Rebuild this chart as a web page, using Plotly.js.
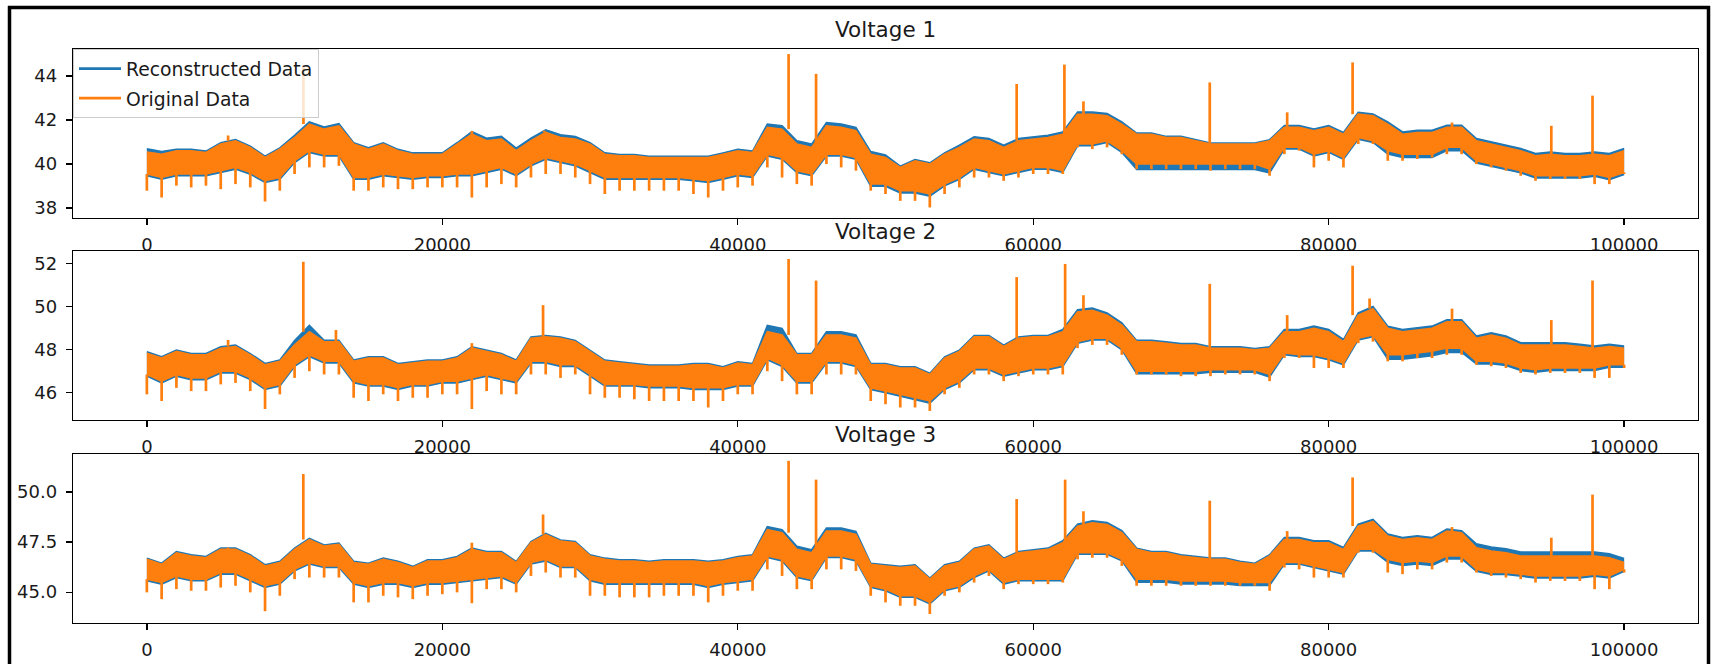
<!DOCTYPE html>
<html><head><meta charset="utf-8">
<script src="https://cdn.plot.ly/plotly-3.0.1.min.js"></script>
<style>html,body{margin:0;padding:0;background:#fff;}#chart{width:1714px;height:664px;}</style>
</head><body><div id="chart"></div>
<script>
// ---------- text / ticks ----------
const panelTitles = ["Voltage 1", "Voltage 2", "Voltage 3"];
const seriesNames = ["Reconstructed Data", "Original Data"];
const xTickVals = [0, 20000, 40000, 60000, 80000, 100000];
const xTickText = ["0", "20000", "40000", "60000", "80000", "100000"];
const yTickVals1 = [38, 40, 42, 44];     const yTickText1 = ["38", "40", "42", "44"];
const yTickVals2 = [46, 48, 50, 52];     const yTickText2 = ["46", "48", "50", "52"];
const yTickVals3 = [45, 47.5, 50];       const yTickText3 = ["45.0", "47.5", "50.0"];
const xRange = [-5000, 105000];
const yRange1 = [37.55, 45.23];
const yRange2 = [44.74, 52.57];
const yRange3 = [43.46, 51.9];
const binStep = 1000;   // envelope arrays: one value per 1000 samples (x = index*1000)

// ---------- Voltage 1 : Original Data (orange) ----------
const v1Hi = [40.55,40.45,40.61,40.61,40.53,40.91,41.06,40.76,40.30,40.68,
 41.21,41.82,41.59,41.74,40.91,40.68,40.91,40.61,40.45,40.45,
 40.45,40.91,41.36,41.06,41.14,40.61,41.06,41.44,41.21,41.14,
 40.91,40.45,40.38,40.38,40.30,40.30,40.30,40.30,40.30,40.45,
 40.61,40.53,41.67,41.59,40.91,40.76,41.74,41.67,41.52,40.45,
 40.30,39.85,40.15,40.00,40.45,40.76,41.14,41.06,40.76,41.06,
 41.14,41.21,41.36,42.27,42.27,42.20,41.82,41.36,41.36,41.21,
 41.21,41.06,40.91,40.91,40.91,40.91,41.06,41.67,41.67,41.52,
 41.67,41.36,42.27,42.20,41.82,41.36,41.44,41.44,41.67,41.67,
 41.06,40.91,40.76,40.61,40.38,40.45,40.38,40.38,40.45,40.38,
 40.61];
const v1Lo = [39.55,39.39,39.55,39.55,39.55,39.70,39.85,39.62,39.24,39.39,
 40.15,40.61,40.45,40.45,39.39,39.39,39.55,39.47,39.39,39.47,
 39.47,39.55,39.55,39.70,39.85,39.55,40.00,40.30,40.15,40.00,
 39.70,39.39,39.39,39.39,39.39,39.39,39.39,39.32,39.24,39.39,
 39.55,39.47,40.45,40.30,39.70,39.55,40.45,40.45,40.30,39.09,
 39.09,38.79,38.79,38.64,39.09,39.39,39.85,39.70,39.55,39.70,
 39.85,39.85,39.70,40.91,40.91,41.06,40.61,40.00,40.00,40.00,
 40.00,40.00,40.00,40.00,40.00,40.00,39.77,40.76,40.76,40.45,
 40.61,40.30,41.21,41.06,40.61,40.45,40.45,40.45,40.76,40.76,
 40.15,40.00,39.85,39.70,39.47,39.47,39.47,39.47,39.55,39.39,
 39.62];
const v1Dip = [38.79,38.48,39.02,38.94,39.02,38.86,39.09,38.94,38.30,38.79,
 39.55,39.85,39.85,39.92,38.79,38.79,38.94,38.86,38.86,38.94,
 38.94,38.94,38.48,38.94,39.09,38.94,39.39,39.55,39.55,39.39,
 39.09,38.64,38.79,38.79,38.79,38.79,38.79,38.64,38.48,38.79,
 38.94,39.02,39.85,39.39,39.09,39.02,40.00,39.85,39.70,38.79,
 38.64,38.33,38.33,38.03,38.64,38.94,39.39,39.39,39.24,39.39,
 39.55,39.55,39.55,40.76,40.68,40.76,40.45,39.77,39.77,39.77,
 39.77,39.77,39.70,39.77,39.77,39.77,39.47,40.45,40.61,39.85,
 40.15,39.85,40.91,40.91,40.15,40.15,40.23,40.30,40.45,40.45,
 40.00,39.85,39.70,39.47,39.24,39.32,39.32,39.32,39.09,39.09,
 39.55];
const v1SpikeX = [5500,10600,22000,26890,43440,45300,58880,62110,63400,71950,77190,81620,88350,95070,97860];
const v1SpikeTop = [41.30,44.45,41.50,41.52,45.00,44.10,43.64,44.52,42.85,43.71,42.35,44.62,41.89,41.74,43.11];
// ---------- Voltage 1 : Reconstructed Data (blue) ----------
const v1BlueHi = [40.70,40.57,40.67,40.67,40.59,40.97,41.12,40.82,40.36,40.74,
 41.31,41.92,41.69,41.84,40.97,40.74,40.97,40.67,40.51,40.51,
 40.51,40.97,41.48,41.18,41.26,40.73,41.18,41.56,41.33,41.26,
 40.97,40.51,40.44,40.44,40.36,40.36,40.36,40.36,40.36,40.51,
 40.67,40.59,41.82,41.74,41.06,40.91,41.89,41.82,41.67,40.57,
 40.42,39.91,40.21,40.06,40.51,40.86,41.24,41.16,40.86,41.16,
 41.24,41.31,41.46,42.37,42.37,42.30,41.92,41.41,41.41,41.26,
 41.26,41.11,40.96,40.96,40.96,40.96,41.11,41.75,41.75,41.60,
 41.75,41.44,42.35,42.28,41.92,41.46,41.54,41.54,41.77,41.77,
 41.16,41.01,40.86,40.71,40.48,40.55,40.48,40.48,40.55,40.48,
 40.71];
const v1BlueLo = [39.47,39.31,39.47,39.47,39.47,39.62,39.77,39.54,39.16,39.31,
 40.07,40.53,40.37,40.37,39.31,39.31,39.47,39.39,39.31,39.39,
 39.39,39.47,39.47,39.62,39.77,39.47,39.92,40.22,40.07,39.92,
 39.62,39.31,39.31,39.31,39.31,39.31,39.31,39.24,39.16,39.31,
 39.47,39.39,40.37,40.22,39.62,39.47,40.37,40.37,40.22,38.99,
 38.99,38.69,38.69,38.54,39.01,39.31,39.77,39.62,39.47,39.62,
 39.77,39.77,39.62,40.83,40.83,40.98,40.53,39.75,39.75,39.75,
 39.75,39.75,39.75,39.75,39.75,39.75,39.60,40.68,40.68,40.37,
 40.53,40.22,41.13,40.98,40.46,40.30,40.30,40.30,40.61,40.61,
 40.05,39.90,39.75,39.60,39.37,39.37,39.37,39.37,39.45,39.29,
 39.52];

// ---------- Voltage 2 : Original Data ----------
const v2Hi = [47.84,47.61,47.92,47.76,47.76,48.07,48.15,47.76,47.30,47.46,
 48.22,48.83,48.37,48.37,47.46,47.61,47.61,47.30,47.38,47.46,
 47.46,47.61,48.07,47.92,47.76,47.46,48.53,48.60,48.53,48.37,
 47.92,47.46,47.38,47.30,47.23,47.23,47.23,47.30,47.30,47.15,
 47.38,47.30,48.83,48.68,47.76,47.76,48.68,48.68,48.53,47.30,
 47.30,47.15,47.15,46.85,47.61,47.92,48.60,48.60,48.15,48.53,
 48.60,48.60,48.83,49.75,49.83,49.60,49.14,48.37,48.37,48.30,
 48.22,48.22,48.07,48.07,48.07,47.99,48.07,48.83,48.83,48.99,
 48.83,48.37,49.60,49.90,48.99,48.83,48.91,48.99,49.29,49.29,
 48.53,48.68,48.53,48.22,48.22,48.22,48.22,48.15,48.07,48.15,
 48.07];
const v2Lo = [46.85,46.54,46.85,46.69,46.69,47.00,47.00,46.69,46.23,46.39,
 47.30,47.76,47.46,47.46,46.54,46.39,46.39,46.23,46.39,46.39,
 46.54,46.54,46.69,46.85,46.69,46.54,47.46,47.46,47.30,47.30,
 46.85,46.39,46.39,46.39,46.31,46.31,46.31,46.23,46.23,46.23,
 46.39,46.39,47.61,47.30,46.54,46.54,47.46,47.46,47.30,46.23,
 46.08,45.93,45.77,45.62,46.23,46.54,47.15,47.15,46.85,47.00,
 47.15,47.15,47.30,48.37,48.53,48.53,48.07,47.00,47.00,47.00,
 47.00,47.00,47.07,47.07,47.07,47.07,46.85,47.84,47.76,47.76,
 47.61,47.38,48.53,48.68,47.76,47.76,47.84,47.92,48.07,48.07,
 47.46,47.46,47.38,47.15,47.07,47.15,47.15,47.15,47.15,47.30,
 47.30];
const v2Dip = [45.93,45.62,46.23,46.08,46.08,46.39,46.46,46.08,45.25,45.93,
 46.69,47.00,46.85,46.85,45.77,45.62,45.93,45.62,45.77,45.77,
 45.93,45.93,45.25,46.08,45.93,45.93,46.85,46.85,46.69,46.85,
 45.93,45.77,45.77,45.70,45.62,45.62,45.62,45.62,45.32,45.62,
 45.93,45.93,47.00,46.54,45.93,45.93,46.85,46.85,46.85,45.62,
 45.47,45.32,45.32,45.16,45.93,46.23,46.85,46.85,46.54,46.77,
 46.85,46.85,46.85,48.07,48.22,48.22,47.76,46.85,46.85,46.85,
 46.77,46.77,46.77,46.85,46.85,46.85,46.54,47.61,47.61,47.15,
 47.15,47.15,48.30,48.37,47.46,47.46,47.61,47.61,47.76,47.76,
 47.30,47.23,47.15,46.92,46.85,46.92,46.92,46.92,46.69,46.69,
 47.15];
const v2SpikeX = [5500,10590,12800,22000,26820,43440,45300,58880,62160,63400,71950,77190,81620,82770,88350,95070,97860];
const v2SpikeTop = [48.45,52.07,48.91,48.30,50.06,52.20,51.20,51.36,51.97,50.52,51.05,49.60,51.89,50.37,49.90,49.37,51.20];
// ---------- Voltage 2 : Reconstructed Data ----------
const v2BlueHi = [47.90,47.67,47.98,47.82,47.82,48.13,48.21,47.82,47.36,47.52,
 48.42,49.13,48.43,48.43,47.52,47.67,47.67,47.36,47.44,47.52,
 47.52,47.67,48.13,47.98,47.82,47.52,48.59,48.66,48.59,48.43,
 47.98,47.52,47.44,47.36,47.29,47.29,47.29,47.36,47.36,47.21,
 47.44,47.36,49.13,48.98,47.82,47.82,48.83,48.83,48.68,47.36,
 47.36,47.21,47.21,46.91,47.67,47.98,48.66,48.66,48.21,48.59,
 48.66,48.66,48.93,49.85,49.93,49.70,49.24,48.43,48.43,48.36,
 48.28,48.28,48.13,48.13,48.13,48.05,48.13,48.93,48.93,49.09,
 48.93,48.47,49.70,50.00,49.09,48.93,49.01,49.09,49.39,49.39,
 48.63,48.78,48.63,48.32,48.32,48.32,48.32,48.25,48.17,48.25,
 48.17];
const v2BlueLo = [46.77,46.46,46.77,46.61,46.61,46.92,46.92,46.61,46.15,46.31,
 47.22,47.68,47.38,47.38,46.46,46.31,46.31,46.15,46.31,46.31,
 46.46,46.46,46.61,46.77,46.61,46.46,47.38,47.38,47.22,47.22,
 46.77,46.31,46.31,46.31,46.23,46.23,46.23,46.15,46.15,46.15,
 46.31,46.31,47.53,47.22,46.46,46.46,47.38,47.38,47.22,46.15,
 46.00,45.83,45.67,45.52,46.15,46.46,47.07,47.07,46.77,46.92,
 47.07,47.07,47.22,48.29,48.45,48.45,47.99,46.88,46.88,46.88,
 46.88,46.88,46.95,46.95,46.95,46.95,46.73,47.76,47.68,47.68,
 47.53,47.30,48.45,48.60,47.56,47.56,47.64,47.72,47.87,47.87,
 47.34,47.34,47.26,47.03,46.95,47.03,47.03,47.03,47.03,47.18,
 47.18];

// ---------- Voltage 3 : Original Data ----------
const v3Hi = [46.64,46.39,46.97,46.81,46.72,47.14,47.14,46.81,46.31,46.48,
 47.14,47.63,47.30,47.39,46.48,46.39,46.64,46.48,46.23,46.56,
 46.56,46.72,47.14,46.97,46.97,46.48,47.47,47.88,47.55,47.47,
 46.81,46.64,46.56,46.56,46.48,46.56,46.56,46.56,46.48,46.56,
 46.72,46.81,48.13,47.97,47.14,46.97,48.05,48.05,47.88,46.39,
 46.31,46.23,46.31,45.65,46.31,46.48,47.14,47.30,46.64,46.97,
 47.06,47.14,47.47,48.30,48.46,48.38,47.97,47.14,46.97,46.97,
 46.81,46.72,46.64,46.64,46.48,46.39,46.81,47.63,47.63,47.47,
 47.47,47.14,48.30,48.54,47.80,47.63,47.72,47.63,48.05,47.97,
 47.22,47.06,46.97,46.81,46.81,46.81,46.81,46.81,46.81,46.72,
 46.48];
const v3Lo = [45.65,45.48,45.81,45.65,45.65,45.98,45.98,45.65,45.32,45.48,
 46.14,46.48,46.31,46.31,45.48,45.32,45.48,45.48,45.32,45.48,
 45.48,45.56,45.65,45.73,45.81,45.48,46.48,46.64,46.31,46.31,
 45.65,45.48,45.48,45.48,45.48,45.48,45.48,45.48,45.32,45.48,
 45.56,45.65,46.81,46.64,45.81,45.65,46.81,46.81,46.64,45.32,
 45.15,44.82,44.82,44.49,45.15,45.32,45.81,46.14,45.48,45.65,
 45.65,45.65,45.65,46.97,46.97,46.97,46.64,45.65,45.65,45.65,
 45.56,45.56,45.56,45.56,45.48,45.48,45.48,46.48,46.48,46.31,
 46.14,45.98,47.14,47.14,46.64,46.48,46.56,46.48,46.81,46.81,
 46.14,45.98,45.98,45.90,45.81,45.81,45.81,45.81,45.90,45.81,
 46.14];
const v3Dip = [44.99,44.65,45.15,45.07,45.07,45.23,45.32,44.99,44.05,44.82,
 45.65,45.73,45.73,45.73,44.49,44.49,44.82,44.74,44.65,44.82,
 44.90,44.99,44.45,45.15,45.15,44.99,45.81,45.98,45.73,45.73,
 44.82,44.82,44.74,44.74,44.74,44.82,44.82,44.82,44.49,44.82,
 45.07,45.07,46.14,45.81,45.15,45.15,46.14,46.14,46.06,44.82,
 44.49,44.32,44.32,43.91,44.82,44.99,45.48,45.81,45.15,45.40,
 45.40,45.40,45.48,46.64,46.72,46.72,46.31,45.32,45.32,45.32,
 45.32,45.32,45.32,45.32,45.32,45.32,45.07,46.23,46.14,45.73,
 45.73,45.73,46.97,46.97,45.98,45.90,46.14,46.14,46.48,46.48,
 45.98,45.81,45.73,45.65,45.48,45.56,45.56,45.56,45.15,45.15,
 45.98];
const v3SpikeX = [5500,10590,22000,26820,43440,45300,58880,62160,63400,71950,77190,81620,88350,95070,97860];
const v3SpikeTop = [47.22,50.90,47.47,48.88,51.56,50.62,49.65,50.62,49.04,49.57,48.05,50.73,48.25,47.72,49.87];
// ---------- Voltage 3 : Reconstructed Data ----------
const v3BlueHi = [46.70,46.45,47.03,46.87,46.78,47.20,47.20,46.87,46.37,46.54,
 47.20,47.69,47.36,47.45,46.54,46.45,46.70,46.54,46.29,46.62,
 46.62,46.78,47.20,47.03,47.03,46.54,47.53,47.94,47.61,47.53,
 46.87,46.70,46.62,46.62,46.54,46.62,46.62,46.62,46.54,46.62,
 46.78,46.87,48.28,48.12,47.29,47.12,48.20,48.20,48.03,46.45,
 46.37,46.29,46.37,45.71,46.37,46.54,47.20,47.36,46.70,47.03,
 47.12,47.20,47.57,48.40,48.56,48.48,48.07,47.20,47.03,47.03,
 46.87,46.78,46.70,46.70,46.54,46.45,46.87,47.73,47.73,47.57,
 47.57,47.24,48.40,48.64,47.90,47.73,47.82,47.73,48.15,48.07,
 47.42,47.26,47.17,47.01,47.01,47.01,47.01,47.01,47.01,46.92,
 46.68];
const v3BlueLo = [45.57,45.40,45.73,45.57,45.57,45.90,45.90,45.57,45.24,45.40,
 46.06,46.40,46.23,46.23,45.40,45.24,45.40,45.40,45.24,45.40,
 45.40,45.48,45.57,45.65,45.73,45.40,46.40,46.56,46.23,46.23,
 45.57,45.40,45.40,45.40,45.40,45.40,45.40,45.40,45.24,45.40,
 45.48,45.57,46.73,46.56,45.73,45.57,46.73,46.73,46.56,45.24,
 45.07,44.74,44.74,44.41,45.07,45.24,45.73,46.06,45.40,45.57,
 45.57,45.57,45.57,46.89,46.89,46.89,46.56,45.50,45.50,45.50,
 45.41,45.41,45.41,45.41,45.33,45.33,45.33,46.40,46.40,46.23,
 46.06,45.90,47.06,47.06,46.49,46.33,46.41,46.33,46.66,46.66,
 46.04,45.88,45.88,45.80,45.71,45.71,45.71,45.71,45.80,45.71,
 46.04];

// ---------- styling ----------
const BLUE = "#1f77b4", ORANGE = "#ff7f0e";
const W = 1714, H = 664;
const FONT = "DejaVu Sans";
const TXT = "#1a1a1a";
const plotLeft = 73, plotRight = 1698;
const panelPx = [[49, 218], [251, 420], [454, 623]]; // top,bottom in px

function xsFor(vals) { return vals.map((v, i) => i * binStep); }
function panelTraces(xa, ya, hi, lo, dip, bHi, bLo, spX, spTop) {
  const tr = [];
  const common = {xaxis: xa, yaxis: ya, mode: "lines", showlegend: false, hoverinfo: "skip"};
  tr.push(Object.assign({}, common, {x: xsFor(bLo), y: bLo, line: {color: BLUE, width: 1.5}}));
  tr.push(Object.assign({}, common, {x: xsFor(bHi), y: bHi, fill: "tonexty", fillcolor: BLUE, line: {color: BLUE, width: 1.5}}));
  tr.push(Object.assign({}, common, {x: xsFor(lo), y: lo, line: {color: ORANGE, width: 1.5}}));
  tr.push(Object.assign({}, common, {x: xsFor(hi), y: hi, fill: "tonexty", fillcolor: ORANGE, line: {color: ORANGE, width: 1.5}}));
  // downward teeth of the original data
  const tx = [], ty = [];
  for (let i = 0; i < dip.length; i++) { tx.push(i * binStep, i * binStep, null); ty.push(lo[i], dip[i], null); }
  tr.push(Object.assign({}, common, {x: tx, y: ty, line: {color: ORANGE, width: 2.7}}));
  // narrow upward spikes
  const sx = [], sy = [];
  for (let k = 0; k < spX.length; k++) {
    const base = hi[Math.round(spX[k] / binStep)];
    sx.push(spX[k], spX[k], null); sy.push(base, spTop[k], null);
  }
  tr.push(Object.assign({}, common, {x: sx, y: sy, line: {color: ORANGE, width: 2.7}}));
  return tr;
}

let traces = [];
traces = traces.concat(panelTraces("x", "y", v1Hi, v1Lo, v1Dip, v1BlueHi, v1BlueLo, v1SpikeX, v1SpikeTop));
traces = traces.concat(panelTraces("x2", "y2", v2Hi, v2Lo, v2Dip, v2BlueHi, v2BlueLo, v2SpikeX, v2SpikeTop));
traces = traces.concat(panelTraces("x3", "y3", v3Hi, v3Lo, v3Dip, v3BlueHi, v3BlueLo, v3SpikeX, v3SpikeTop));
// legend entries
traces.push({x: [null], y: [null], xaxis: "x", yaxis: "y", mode: "lines", name: seriesNames[0], legendgroup: "a", line: {color: BLUE, width: 2.7}});
traces.push({x: [null], y: [null], xaxis: "x", yaxis: "y", mode: "lines", name: seriesNames[1], legendgroup: "b", line: {color: ORANGE, width: 2.7}});

const xDom = [plotLeft / W, plotRight / W];
function yDom(p) { return [1 - panelPx[p][1] / H, 1 - panelPx[p][0] / H]; }
function xAxis(anchor) {
  return {domain: xDom, anchor: anchor, range: xRange, tickmode: "array", tickvals: xTickVals, ticktext: xTickText,
    showline: true, mirror: true, linecolor: "#000", linewidth: 1.3, ticks: "outside", ticklen: 6, tickwidth: 1.3, tickcolor: "#000",
    showgrid: false, zeroline: false, tickfont: {family: FONT, size: 18, color: TXT}, ticklabelstandoff: 4, fixedrange: true};
}
function yAxis(anchor, p, range, tv, tt) {
  return {domain: yDom(p), anchor: anchor, range: range, tickmode: "array", tickvals: tv, ticktext: tt,
    showline: true, mirror: true, linecolor: "#000", linewidth: 1.3, ticks: "outside", ticklen: 6, tickwidth: 1.3, tickcolor: "#000",
    showgrid: false, zeroline: false, tickfont: {family: FONT, size: 18, color: TXT}, ticklabelstandoff: 5, fixedrange: true};
}
const annotations = panelTitles.map((t, p) => ({
  text: t, xref: "paper", yref: "paper", x: (plotLeft + plotRight) / 2 / W, y: yDom(p)[1],
  xanchor: "center", yanchor: "bottom", yshift: 5, showarrow: false, font: {family: FONT, size: 21.5, color: TXT}
}));
const frameShapes = [
  {type: "line", xref: "paper", yref: "paper", x0: 9.5 / W, x1: 9.5 / W, y0: 1 - 6 / H, y1: -0.02, line: {color: "#000", width: 3.5}},
  {type: "line", xref: "paper", yref: "paper", x0: 8 / W, x1: 1710 / W, y0: 1 - 7.5 / H, y1: 1 - 7.5 / H, line: {color: "#000", width: 3.5}},
  {type: "line", xref: "paper", yref: "paper", x0: 1708.5 / W, x1: 1708.5 / W, y0: 1 - 6 / H, y1: -0.02, line: {color: "#000", width: 3.5}}
];
const layout = {
  width: W, height: H, margin: {l: 0, r: 0, t: 0, b: 0}, paper_bgcolor: "#fff", plot_bgcolor: "#fff",
  showlegend: true,
  legend: {x: plotLeft / W, y: 1 - panelPx[0][0] / H, xanchor: "left", yanchor: "top", bgcolor: "rgba(255,255,255,0.8)",
    bordercolor: "#cccccc", borderwidth: 1, font: {family: FONT, size: 18.8, color: TXT}, tracegroupgap: 2, itemwidth: 42},
  xaxis: xAxis("y"), yaxis: yAxis("x", 0, yRange1, yTickVals1, yTickText1),
  xaxis2: xAxis("y2"), yaxis2: yAxis("x2", 1, yRange2, yTickVals2, yTickText2),
  xaxis3: xAxis("y3"), yaxis3: yAxis("x3", 2, yRange3, yTickVals3, yTickText3),
  annotations: annotations, shapes: frameShapes
};
Plotly.newPlot("chart", traces, layout, {displayModeBar: false, staticPlot: true});
</script></body></html>
